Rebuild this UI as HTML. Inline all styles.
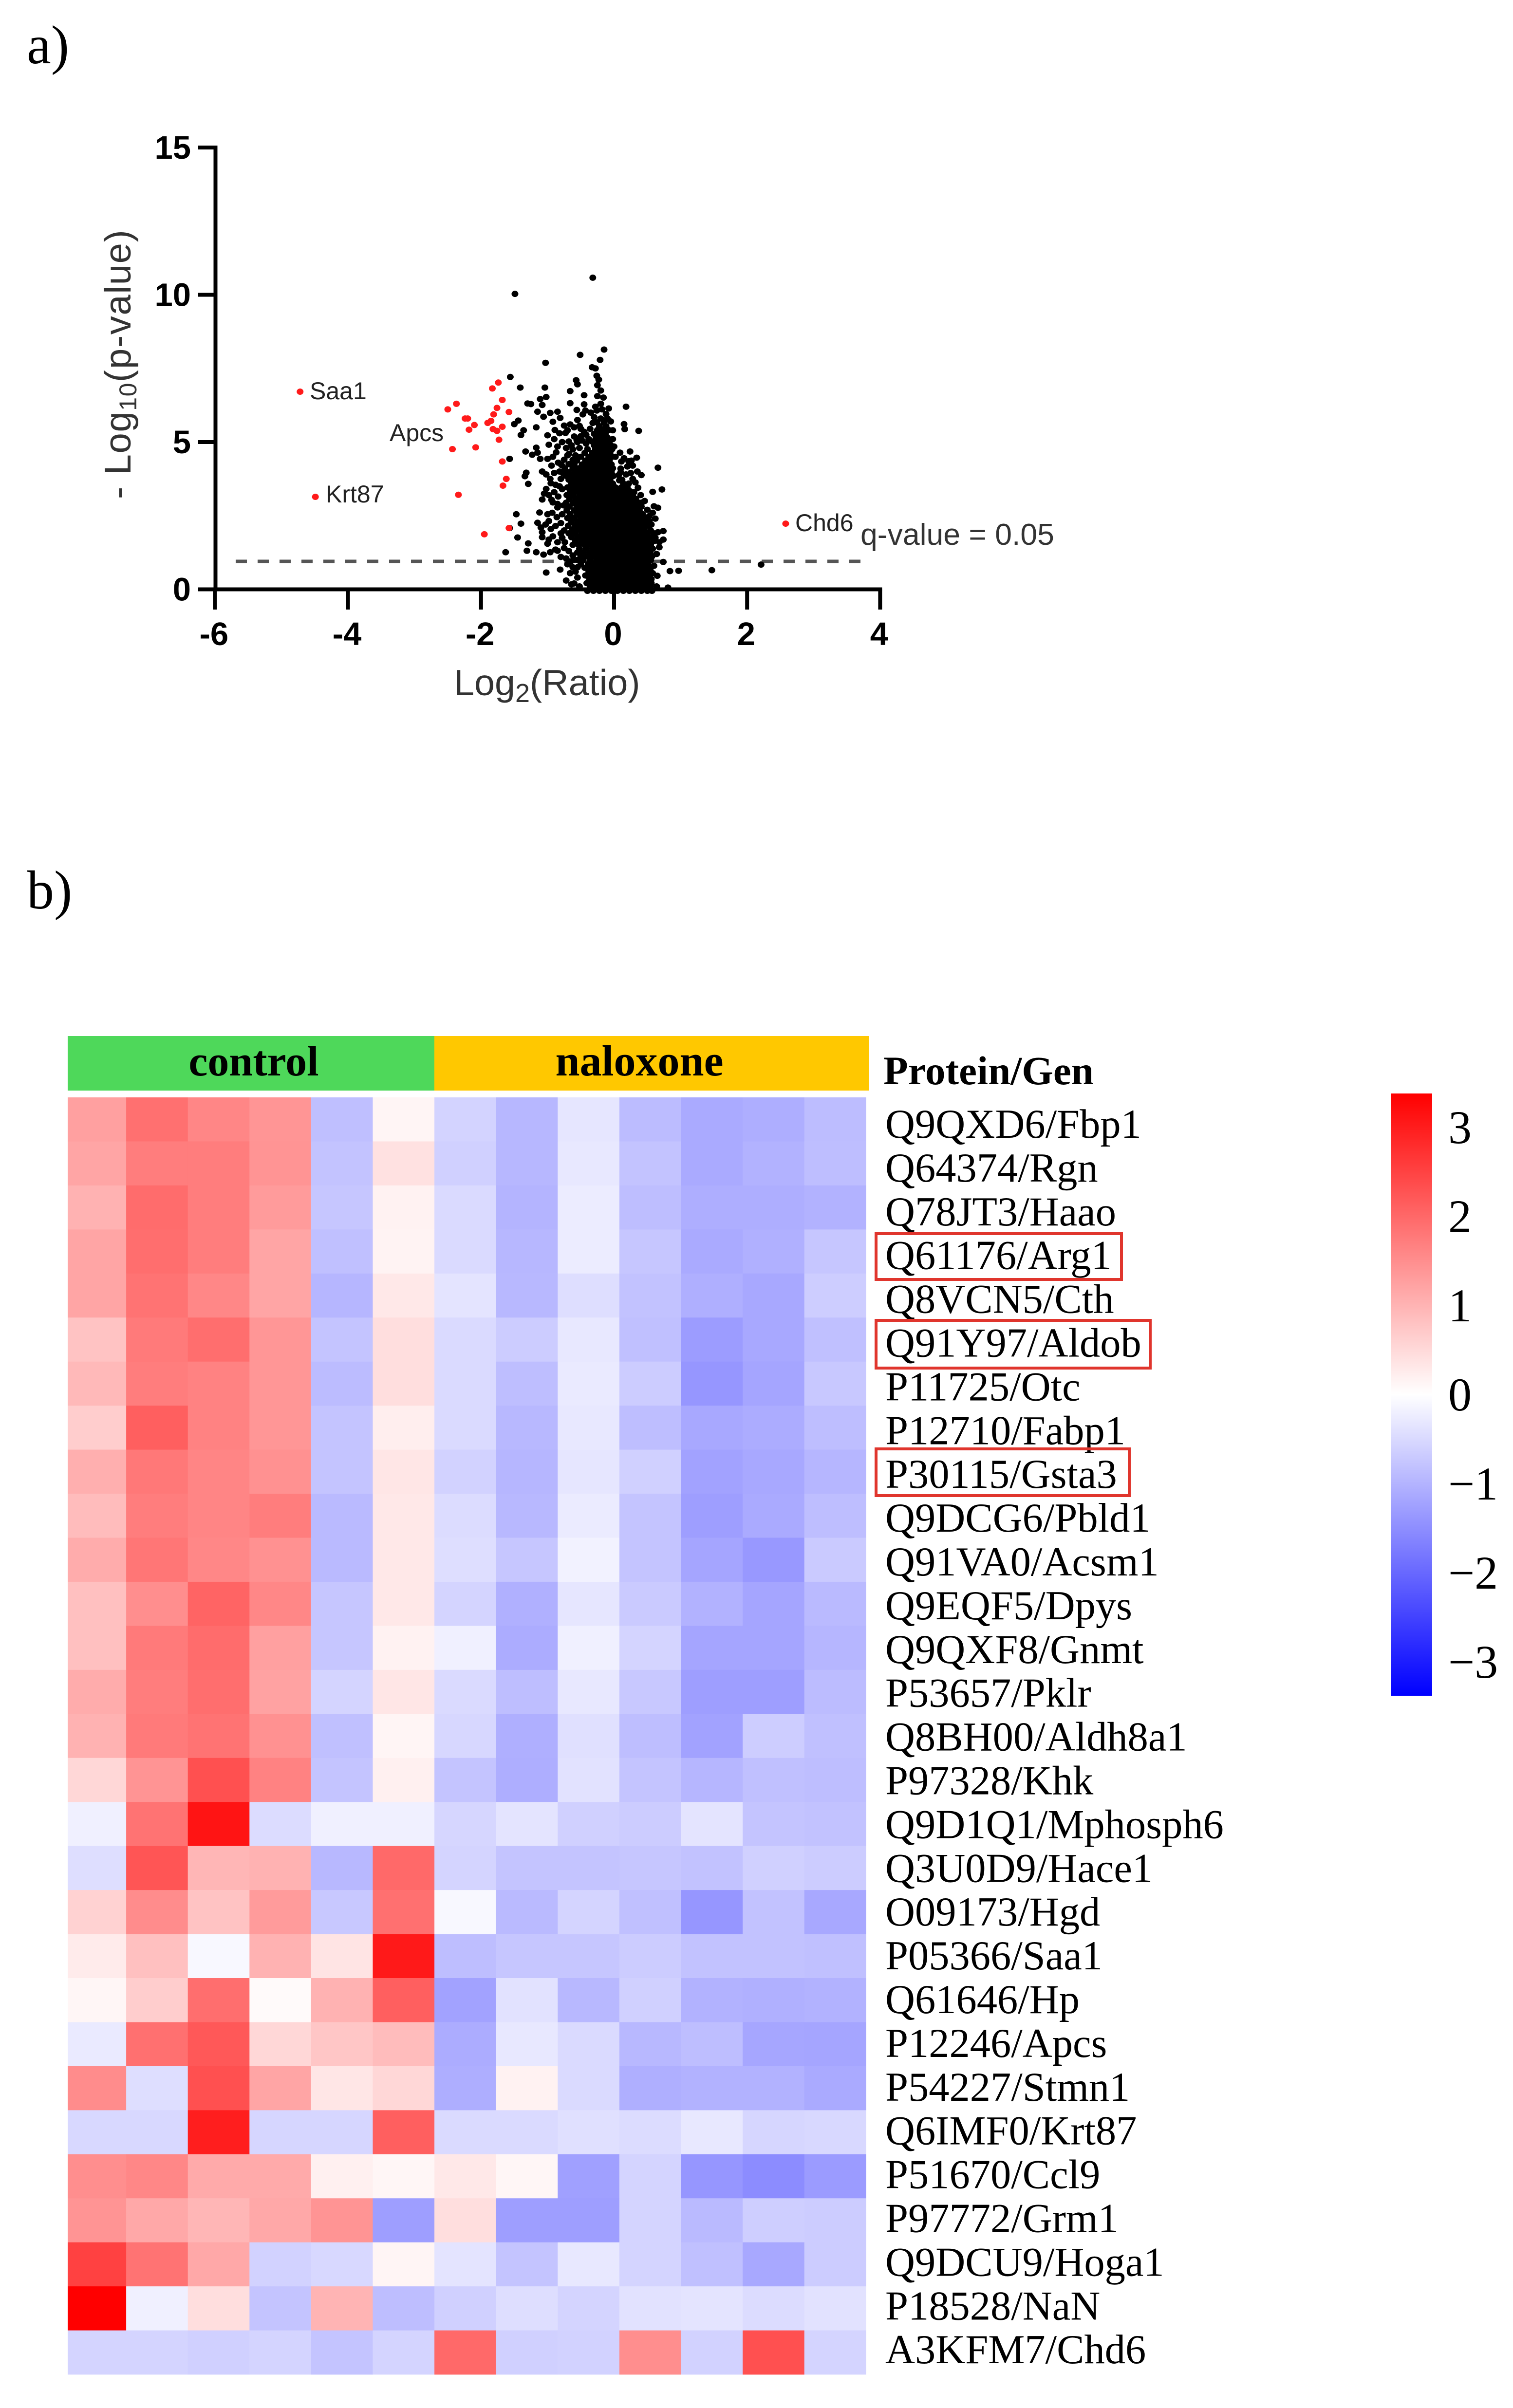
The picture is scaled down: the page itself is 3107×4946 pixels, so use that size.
<!DOCTYPE html>
<html lang="en">
<head>
<meta charset="utf-8">
<title>Volcano plot and protein heatmap</title>
<style>
html,body{margin:0;padding:0;background:#fff;}
svg{display:block;}
.sans{font-family:"Liberation Sans",Arial,sans-serif;}
.serif{font-family:"Liberation Serif","Times New Roman",serif;}
</style>
</head>
<body>
<svg id="fig" xmlns="http://www.w3.org/2000/svg" width="3107" height="4946" viewBox="0 0 3107 4946">
  <defs>
    <linearGradient id="cbGrad" x1="0" y1="0" x2="0" y2="1">
      <stop offset="0" stop-color="#ff0000"/>
      <stop offset="0.5" stop-color="#ffffff"/>
      <stop offset="1" stop-color="#0000ff"/>
    </linearGradient>
  </defs>
  <rect x="0" y="0" width="3107" height="4946" fill="#ffffff"/>
  <text class="serif" x="55" y="130" font-size="112" fill="#000">a)</text>
  <text class="serif" x="55" y="1866" font-size="112" fill="#000">b)</text>

  <g id="volcano">
    <g id="vAxes"></g>
    <text class="sans" x="932" y="1428" font-size="75.5" fill="#333">Log<tspan font-size="54" dy="14">2</tspan><tspan dy="-14">(Ratio)</tspan></text>
    <text class="sans" transform="translate(268,1025) rotate(-90)" x="0" y="0" font-size="76" fill="#333" letter-spacing="1.6">- Log<tspan font-size="50" dy="12">10</tspan><tspan dy="-12">(p-value)</tspan></text>
    <g id="vThreshold"></g>
    <g id="vBlack"></g>
    <g id="vRed"></g>
    <text class="sans" x="636" y="820" font-size="50" fill="#222">Saa1</text>
    <text class="sans" x="800" y="906" font-size="50" fill="#222">Apcs</text>
    <text class="sans" x="669" y="1032" font-size="50" fill="#222">Krt87</text>
    <text class="sans" x="1633" y="1091" font-size="50" fill="#222">Chd6</text>
    <text class="sans" x="1767" y="1119" font-size="62.5" fill="#333">q-value = 0.05</text>
  </g>

  <g id="heatmap">
    <rect x="139" y="2128" width="753" height="112" fill="#4ed85a"/>
    <rect x="892" y="2128" width="892" height="112" fill="#ffc800"/>
    <text class="serif" x="521" y="2209" font-size="88" font-weight="bold" text-anchor="middle" fill="#000">control</text>
    <text class="serif" x="1313" y="2209" font-size="90" font-weight="bold" text-anchor="middle" fill="#000">naloxone</text>
    <text class="serif" x="1814" y="2227" font-size="83" font-weight="bold" fill="#000">Protein/Gen</text>
    <g id="hCells"></g>
    <g id="hLabels"></g>
    <rect x="1799" y="2534" width="504" height="94" fill="none" stroke="#e0352d" stroke-width="6"/>
    <rect x="1799" y="2712" width="563" height="98" fill="none" stroke="#e0352d" stroke-width="6"/>
    <rect x="1799" y="2976" width="520" height="96" fill="none" stroke="#e0352d" stroke-width="6"/>
    <rect x="2856" y="2246" width="85" height="1237" fill="url(#cbGrad)"/>
    <g id="cbLabels"></g>
  </g>
</svg>

<script>
/* ---------- Volcano plot data ---------- */
const xTickValues = [-6, -4, -2, 0, 2, 4];
const yTickValues = [0, 5, 10, 15];
const qThreshold = 0.95;

const redPoints = [
[-4.72,6.71],[-4.49,3.14],[2.58,2.23],
[-1.74,7.02],[-1.83,6.82],[-1.68,6.43],[-2.37,6.3],[-2.5,6.11],[-1.76,6.16],[-1.58,6.02],
[-1.81,5.94],[-2.24,5.8],[-2.2,5.8],[-1.9,5.65],[-1.85,5.72],[-2.1,5.58],[-1.68,5.52],
[-2.18,5.42],[-1.82,5.44],[-1.76,5.38],[-1.73,5.08],[-2.43,4.76],[-2.08,4.82],[-1.68,4.34],
[-1.62,3.75],[-1.67,3.52],[-2.34,3.21],[-1.58,2.08],[-1.95,1.87]
];

const sparseBlackPoints = [
[-0.32,10.58],[-1.49,10.03],[-0.15,8.14],[-0.51,7.96],[-0.21,7.79],[-1.03,7.69],[-0.33,7.54],[-0.28,7.5],
[-0.26,7.25],[-0.23,7.12],[-0.57,7.1],[-1.56,7.21],[-1.41,6.85],[-1.04,6.85],[-0.55,6.96],[-0.25,6.93],
[-0.66,6.73],[-0.45,6.59],[-0.2,6.75],[-0.25,6.56],[-0.16,6.51],[-1.02,6.53],[-1.11,6.46],[-0.66,6.32],
[-0.45,6.28],[-1.3,6.31],[-1.25,6.29],[-1.08,6.26],[0.18,6.2],[-0.56,6.09],[-0.43,6.07],[-0.08,6.14],
[-0.18,6.11],[-0.26,6.07],[-1.15,6.03],[-0.96,5.99],[-0.85,6.03],[-0.47,5.94],[-1.06,5.86],[-0.81,5.82],
[-0.92,5.69],[-1.44,5.73],[-1.5,5.61],[0.15,5.61],[0.16,5.44],[0.37,5.38],[-0.75,5.56],[-1.17,5.5],
[-0.52,5.55],[-0.89,5.41],[-1.36,5.4],[-0.73,5.31],[-1.4,5.24],[-1,5.23],[-0.45,5.35],[-0.6,5.19],
[-0.9,5.1],[-0.68,5.02],[-0.98,4.91],[-1.17,4.81],[-0.64,4.89],[-0.56,5.06],[-1.33,4.68],[-0.87,4.65],
[-1.15,4.64],[-1.23,4.57],[0.09,4.64],[0.24,4.68],[-1,4.43],[-1.11,4.43],[-1.57,4.43],[0.34,4.47],
[0.11,4.34],[-0.79,4.22],[0.66,4.13],[0.2,4.17],[-1.08,4],[-1.32,3.96],[-1.34,3.84],[0.41,3.88],
[0.07,3.88],[-1.29,3.58],[-0.96,3.75],[0.32,3.63],[-1.02,3.41],[0.72,3.39],[0.58,3.31],[-1.08,3.05],
[-0.94,3.04],[0.6,2.82],[0.66,2.77],[-0.85,2.78],[-1.47,2.55],[-1.12,2.61],[0.53,2.49],[0.53,2.32],
[-1.4,2.23],[-1.15,2.26],[-1.57,2.08],[-0.98,2.32],[-1.08,1.94],[0.74,1.98],[0.66,1.94],[-1.45,1.76],
[-1.08,1.77],[0.74,1.69],[-1.29,1.56],[-0.98,1.69],[0.68,1.43],[-1.31,1.31],[-1.17,1.26],[-1.06,1.18],
[-1.63,1.26],[-0.96,1.26],[-0.85,1.31],[0.74,0.93],[2.21,0.84],[1.47,0.65],[0.97,0.63],[0.84,0.62],
[-0.81,0.67],[-1.02,0.57],[0.65,0.46],[-0.72,0.3],[-0.64,0.17],[0.81,0.06],
[-1.05,3.25],[-0.98,3.2],[-0.9,3.3],[-0.84,3.15],[-0.78,3.4],[-0.92,2.95],[-0.85,2.9],[-0.76,2.85],
[-1,2.55],[-0.93,2.6],[-0.86,2.45],[-0.78,2.55],[-1.1,2.1],[-1.03,2.2],[-0.95,2.05],[-0.88,2.15],
[-0.8,2.25],[-1,1.55],[-0.92,1.8],[-0.85,1.6],[-0.78,1.75],[-0.75,1.4],[-0.88,1.35],[-0.8,1.1],
[-0.72,1.05],[-0.7,0.85],[-0.65,0.95],[-0.62,0.75],[-0.58,0.6],[-0.66,0.55],[-0.55,0.4],[-0.6,0.2],
[-0.52,0.1],[-0.5,0.85],[-0.55,1],[-0.8,3.75],[-0.82,4],[-0.77,3.95],[-0.9,3.95],
[0.55,2],[0.62,2.4],[0.58,2.6],[0.5,2.7],[0.46,3],[0.4,3.2],[0.36,3.45],[0.3,3.3],[0.35,4],[0.28,4.2],
[0.22,4.35],[0.15,4.45],[0.1,4.1],[0.18,3.9],[0.08,3.7],[0.62,1.75],[0.68,1.6],[0.64,1.2],[0.6,0.8],
[0.58,0.55],[0.56,0.35],[0.64,0.1],
[-0.7,4.55],[-0.62,4.75],[-0.55,5],[-0.5,5.2],[-0.38,5.1],[-0.42,4.95],
[-0.82,5.3],[-0.78,5],[-0.72,4.8],[-0.85,4.85],[-0.68,4.6],[-0.92,4.5],[-0.75,4.4],[-0.62,4.4],
[-0.84,4.3],[-0.68,4.25],[-0.58,4.55],[-0.52,4.8],[-0.48,5.05],[-0.42,5.25],[-0.36,5.45],[-0.32,5.65],
[-0.3,5.85],[-0.35,6],[-0.28,6.2],[-0.2,6.3],[-0.12,5.95],[-0.05,5.7],[-0.02,5.4],[-0.02,5.1],
[0,4.85],[0.02,4.5],[-0.7,5.4],[-0.66,5.6],[-0.6,5.5],[-0.55,5.75],[-0.5,5.45],[-0.94,4.2],
[-1.02,3.9],[-0.95,3.6],[-0.88,3.55],[-0.82,3.5],[0.28,3.75],[0.25,3.95],[0.42,2.95],[0.48,2.4],
[0.56,2.2],[0.6,1.9],[-0.75,2],[-0.8,1.9],[-0.74,1.6],[-0.68,1.3],[-0.62,1.15],[-0.6,1],[-0.55,0.75]
];

/* dense core of the volcano: one p-value level per row, with the ratios seen on that row */
const coreLevels = [-0.05,0.08,0.21,0.34,0.47,0.6,0.73,0.86,0.99,1.12,1.25,1.38,1.51,1.64,1.77,1.9,2.03,2.16,2.29,2.42,2.55,2.68,2.81,2.94,3.07,3.2,3.33,3.46,3.59,3.72,3.85,3.98,4.11,4.24,4.37,4.5,4.63,4.76,4.89,5.02,5.15,5.28,5.41,5.54,5.67,5.8];
const coreRatios = [
[-.4,-.31,-.22,-.13,-.04,.05,.14,.23,.32,.41,.5,.57],
[-.36,-.27,-.18,-.09,0,.09,.18,.27,.36,.45,.54],
[-.41,-.32,-.23,-.14,-.05,.04,.13,.22,.31,.4,.49,.56],
[-.37,-.28,-.19,-.1,-.01,.08,.17,.26,.35,.44,.52],
[-.43,-.33,-.24,-.15,-.06,.03,.12,.21,.3,.39,.48,.54],
[-.38,-.29,-.2,-.11,-.02,.07,.16,.25,.34,.43,.5],
[-.44,-.34,-.25,-.16,-.07,.02,.11,.2,.29,.38,.47,.55],
[-.39,-.3,-.21,-.12,-.03,.06,.15,.24,.33,.42,.51],
[-.47,-.36,-.26,-.17,-.08,.01,.1,.19,.28,.37,.46,.55],
[-.5,-.41,-.31,-.22,-.13,-.04,.05,.14,.23,.32,.41,.5,.57],
[-.55,-.46,-.36,-.27,-.18,-.09,0,.09,.18,.27,.36,.45,.54],
[-.52,-.42,-.32,-.23,-.14,-.05,.04,.13,.22,.31,.4,.49,.58],
[-.62,-.53,-.44,-.35,-.26,-.17,-.08,.01,.1,.19,.28,.37,.46,.55],
[-.58,-.48,-.39,-.3,-.21,-.12,-.03,.06,.15,.24,.33,.42,.5,.6],
[-.64,-.54,-.45,-.36,-.27,-.18,-.09,0,.09,.18,.27,.36,.45,.53],
[-.68,-.59,-.49,-.4,-.31,-.22,-.13,-.04,.05,.14,.23,.32,.41,.5],
[-.63,-.54,-.45,-.36,-.27,-.18,-.09,0,.09,.18,.27,.36,.45],
[-.69,-.58,-.49,-.4,-.31,-.22,-.13,-.04,.05,.14,.23,.32,.41,.5],
[-.64,-.54,-.45,-.36,-.27,-.18,-.09,0,.09,.18,.27,.36,.44],
[-.7,-.6,-.5,-.41,-.32,-.23,-.14,-.05,.04,.13,.22,.31,.4],
[-.66,-.55,-.46,-.37,-.28,-.19,-.1,-.01,.08,.17,.26,.35,.43],
[-.71,-.6,-.51,-.42,-.33,-.24,-.15,-.06,.03,.12,.21,.3,.38],
[-.67,-.56,-.47,-.38,-.29,-.2,-.11,-.02,.07,.16,.25,.34,.41],
[-.72,-.61,-.52,-.43,-.34,-.25,-.16,-.07,.02,.11,.2,.29,.37],
[-.67,-.57,-.48,-.39,-.3,-.21,-.12,-.03,.06,.15,.24,.33],
[-.71,-.62,-.52,-.43,-.34,-.25,-.16,-.07,.02,.11,.2,.28],
[-.66,-.57,-.48,-.39,-.3,-.21,-.12,-.03,.06,.15,.24],
[-.7,-.61,-.52,-.43,-.34,-.25,-.16,-.07,.02,.11,.2],
[-.64,-.56,-.47,-.38,-.29,-.2,-.11,-.02,.14,.22],
[-.68,-.6,-.51,-.42,-.33,-.24,-.15,-.06,.12],
[-.72,-.63,-.54,-.45,-.36,-.27,-.18,-.09,-.01],
[-.68,-.58,-.49,-.4,-.31,-.22,-.13,-.04,.1],
[-.74,-.62,-.53,-.44,-.35,-.26,-.17,-.08,-.02],
[-.6,-.48,-.39,-.3,-.21,-.12,-.04],
[-.56,-.43,-.34,-.25,-.16,-.07,.26],
[-.5,-.38,-.29,-.2,-.11,-.03],
[-.44,-.33,-.24,-.15,-.06],
[-.4,-.28,-.19,-.1,-.03],
[-.3,-.22,-.13,-.05],
[-.33,-.25,-.16,-.07],
[-.27,-.19,-.1],
[-.3,-.21,-.13],
[-.25,-.16,-.08],
[-.22,-.12],
[-.26,-.15],
[-.2,-.1]
];

/* ---------- Heatmap data ---------- */
const proteinLabels = ["Q9QXD6/Fbp1","Q64374/Rgn","Q78JT3/Haao","Q61176/Arg1","Q8VCN5/Cth","Q91Y97/Aldob","P11725/Otc","P12710/Fabp1","P30115/Gsta3","Q9DCG6/Pbld1","Q91VA0/Acsm1","Q9EQF5/Dpys","Q9QXF8/Gnmt","P53657/Pklr","Q8BH00/Aldh8a1","P97328/Khk","Q9D1Q1/Mphosph6","Q3U0D9/Hace1","O09173/Hgd","P05366/Saa1","Q61646/Hp","P12246/Apcs","P54227/Stmn1","Q6IMF0/Krt87","P51670/Ccl9","P97772/Grm1","Q9DCU9/Hoga1","P18528/NaN","A3KFM7/Chd6"];
const colorScaleTicks = [3, 2, 1, 0, -1, -2, -3];
const heatValues = [
[1.26,1.89,1.6,1.4,-.85,.13,-.58,-.95,-.33,-.89,-1.13,-1.08,-.87],
[1.19,1.72,1.72,1.42,-.8,.4,-.62,-.95,-.3,-.8,-1.13,-1.02,-.86],
[1.02,1.95,1.72,1.33,-.76,.17,-.49,-1,-.25,-.86,-1.07,-1.07,-1.02],
[1.19,1.92,1.72,1.19,-.84,.16,-.49,-.95,-.25,-.76,-1.13,-1.05,-.76],
[1.19,1.86,1.59,1.19,-.97,.3,-.36,-.94,-.44,-.81,-1.06,-1.15,-.66],
[.8,1.76,1.92,1.39,-.78,.44,-.49,-.68,-.3,-.84,-1.31,-1.15,-.84],
[.93,1.72,1.66,1.39,-.89,.44,-.49,-.86,-.28,-.68,-1.39,-1.19,-.73],
[.66,2.12,1.66,1.39,-.78,.23,-.49,-.94,-.3,-.86,-1.15,-1.1,-.86],
[1.06,1.79,1.62,1.46,-.78,.33,-.6,-.97,-.33,-.62,-1.23,-1.15,-.97],
[.89,1.72,1.62,1.72,-.92,.3,-.46,-.94,-.27,-.78,-1.29,-1.13,-.86],
[1.1,1.82,1.59,1.46,-.92,.3,-.44,-.76,-.17,-.78,-1.19,-1.37,-.7],
[.84,1.5,2.06,1.59,-.76,.3,-.57,-1.05,-.33,-.7,-1.02,-1.19,-.92],
[.84,1.76,1.95,1.26,-.76,.17,-.2,-1.1,-.2,-.57,-1.19,-1.19,-.97],
[1.1,1.72,1.92,1.23,-.57,.33,-.49,-.86,-.3,-.73,-1.29,-1.29,-.89],
[1.02,1.76,1.86,1.46,-.84,.13,-.53,-1.06,-.41,-.86,-1.23,-.66,-.84],
[.53,1.42,2.32,1.66,-.78,.2,-.78,-1.07,-.38,-.78,-.97,-.84,-.86],
[-.2,1.86,3.12,-.46,-.2,-.2,-.54,-.36,-.62,-.68,-.36,-.78,-.81],
[-.44,2.25,.97,1.02,-.94,1.99,-.57,-.78,-.78,-.76,-.81,-.62,-.68],
[.6,1.53,.8,1.33,-.73,1.9,-.09,-.92,-.57,-.84,-1.39,-.81,-1.15],
[.27,.84,-.09,1.02,.36,3.05,-.86,-.76,-.76,-.68,-.81,-.81,-.84],
[.12,.66,1.92,.07,1.02,2.12,-1.23,-.38,-.94,-.62,-1.02,-1.05,-1.02],
[-.28,1.9,2.21,.53,.76,.89,-1.1,-.3,-.49,-.94,-.86,-1.18,-1.19],
[1.53,-.44,2.32,1.19,.33,.53,-1.07,.17,-.49,-1.06,-1.02,-1.02,-1.13],
[-.52,-.52,2.98,-.54,-.54,2.12,-.49,-.49,-.41,-.46,-.3,-.54,-.52],
[1.5,1.59,1.13,1.13,.2,.12,.3,.12,-1.26,-.57,-1.39,-1.53,-1.33],
[1.42,1.15,.97,1.15,1.42,-1.29,.44,-1.29,-1.29,-.57,-.92,-.65,-.68],
[2.52,1.86,1.15,-.6,-.52,.13,-.36,-.78,-.3,-.57,-.84,-1.15,-.68],
[3.38,-.2,.44,-.78,1,-.86,-.62,-.44,-.57,-.38,-.36,-.46,-.38],
[-.57,-.57,-.62,-.57,-.78,-.57,1.99,-.62,-.6,1.5,-.6,2.32,-.57]
];

/* ---------- Axis functions ---------- */
function xScale(v){ return 1261 + 136.6 * v; }
function yScale(v){ return 1210.5 - 60.5 * v; }
function heatX(c){ return Math.max(139, 132.5 + 126.6 * c); }
function heatY(r){ return 2254 + 90.45 * r; }
function labelBaseline(r){ return 2337 + 89.9 * r; }
function scaleY(v){ return 2865 - 183 * v; }
function heatColor(z){
  const t = Math.min(1, Math.abs(z) / 3.38);
  const k = Math.round(255 * (1 - t));
  return z >= 0 ? 'rgb(255,' + k + ',' + k + ')' : 'rgb(' + k + ',' + k + ',255)';
}
const SVGNS = 'http://www.w3.org/2000/svg';
function make(tag, parent, attrs){
  const node = document.createElementNS(SVGNS, tag);
  for (const key in attrs) node.setAttribute(key, attrs[key]);
  parent.appendChild(node);
  return node;
}

/* ---------- Draw volcano axes ---------- */
const vAxes = document.getElementById('vAxes');
const yLine = make('line', vAxes, {x1:442.5, y1:yScale(15)-4, x2:442.5, y2:yScale(0)+4, stroke:'#000', 'stroke-width':8});


const xLine = make('line', vAxes, {x1:407, y1:yScale(0), x2:xScale(4)+4, y2:yScale(0), stroke:'#000', 'stroke-width':8});



xTickValues.forEach(function(v){
  const tick = make('line', vAxes, {x1:xScale(v), y1:yScale(0), x2:xScale(v), y2:1252, stroke:'#000', 'stroke-width':8});
  
  
  const label = make('text', vAxes, {x:xScale(v)-2, y:1325, 'text-anchor':'middle', 'font-size':67, 'font-weight':'bold', fill:'#000', class:'sans'});
  label.textContent = String(v);
  
  
});
yTickValues.forEach(function(v){
  const tick = make('line', vAxes, {x1:407, y1:yScale(v), x2:442, y2:yScale(v), stroke:'#000', 'stroke-width':8});
  
  
  const label = make('text', vAxes, {x:392, y:yScale(v)+23, 'text-anchor':'end', 'font-size':67, 'font-weight':'bold', fill:'#000', class:'sans'});
  label.textContent = String(v);
  
  
});

const dash = make('line', document.getElementById('vThreshold'), {x1:484, y1:yScale(qThreshold), x2:1781, y2:yScale(qThreshold), stroke:'#555', 'stroke-width':7, 'stroke-dasharray':'23 22'});



/* ---------- Draw points ---------- */
const vBlack = document.getElementById('vBlack');
const vRed = document.getElementById('vRed');
function drawPoint(parent, ratio, logP, color){
  const dot = make('ellipse', parent, {cx:xScale(ratio), cy:yScale(logP), rx:7, ry:6.5, fill:color});
  
  
}
coreLevels.forEach(function(level, i){
  coreRatios[i].forEach(function(ratio){ drawPoint(vBlack, ratio, level, '#000'); });
});
sparseBlackPoints.forEach(function(p){ drawPoint(vBlack, p[0], p[1], '#000'); });
redPoints.forEach(function(p){ drawPoint(vRed, p[0], p[1], '#ff1a1a'); });

/* ---------- Draw heatmap ---------- */
const hCells = document.getElementById('hCells');
heatValues.forEach(function(row, r){
  row.forEach(function(z, c){
    const x = heatX(c);
    const cell = make('rect', hCells, {x:x, y:heatY(r), width:heatX(c+1)-x+0.4, height:90.85, fill:heatColor(z)});
    
    
  });
});
const hLabels = document.getElementById('hLabels');
proteinLabels.forEach(function(name, r){
  const label = make('text', hLabels, {x:1818, y:labelBaseline(r), 'font-size':84.5, fill:'#000', class:'serif'});
  label.textContent = name;
  
  
});
const cbLabels = document.getElementById('cbLabels');
colorScaleTicks.forEach(function(v){
  const label = make('text', cbLabels, {x:2974, y:scaleY(v)+32, 'font-size':96, fill:'#000', class:'serif'});
  label.textContent = v < 0 ? '\u2212' + Math.abs(v) : String(v);
  
  
});
</script>
</body>
</html>
